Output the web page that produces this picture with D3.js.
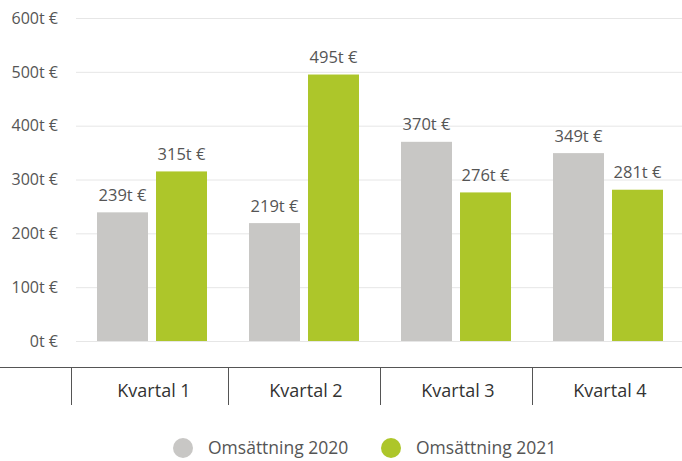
<!DOCTYPE html>
<html>
<head>
<meta charset="utf-8">
<script src="https://cdnjs.cloudflare.com/ajax/libs/d3/7.8.5/d3.min.js"></script>
<style>
  body { margin: 0; background: #fff; }
  text { font-family: 'Open Sans', sans-serif; }
</style>
</head>
<body>
<svg id="chart"></svg>
<script>
const categories = ['Kvartal 1', 'Kvartal 2', 'Kvartal 3', 'Kvartal 4'];
const seriesNames = ['Omsättning 2020', 'Omsättning 2021'];
const values2020 = [239, 219, 370, 349];
const values2021 = [315, 495, 276, 281];
const yTicks = [0, 100, 200, 300, 400, 500, 600];
const colors = ['#c8c7c5', '#adc62a'];

const width = 682, height = 461;
const svg = d3.select('#chart').attr('width', width).attr('height', height);

const x = d3.scaleBand().domain(categories).range([76, 684]);
const xSub = d3.scaleBand().domain(seriesNames).range([21, 131]).paddingInner(0.136);
const y = d3.scaleLinear().domain([0, 600]).range([341, 18]);

// grid
const gridY = svg.append('g').attr('id', 'gridY');
gridY.selectAll('line').data(yTicks).enter().append('line')
  .attr('x1', 76).attr('x2', width)
  .attr('y1', d => y(d) + 0.5).attr('y2', d => y(d) + 0.5)
  .attr('stroke', '#e6e6e6').attr('stroke-width', 1);

// y labels
svg.append('g').selectAll('text').data(yTicks).enter().append('text')
  .attr('x', 58).attr('y', d => y(d)).attr('dy', '0.36em')
  .attr('text-anchor', 'end')
  .style('font-size', '16px').style('fill', '#555')
  .text(d => d + 't €');

// bars
const rows = categories.map((c, i) => ({ cat: c, vals: [values2020[i], values2021[i]] }));
const groups = svg.append('g').selectAll('g').data(rows).enter().append('g')
  .attr('transform', d => 'translate(' + x(d.cat) + ',0)');

groups.selectAll('rect').data(d => d.vals.map((v, j) => ({ s: seriesNames[j], v: v, j: j })))
  .enter().append('rect')
  .attr('x', d => xSub(d.s)).attr('width', xSub.bandwidth())
  .attr('y', d => y(d.v)).attr('height', d => y(0) - y(d.v))
  .attr('fill', d => colors[d.j]);

groups.selectAll('text').data(d => d.vals.map((v, j) => ({ s: seriesNames[j], v: v })))
  .enter().append('text')
  .attr('x', d => xSub(d.s) + xSub.bandwidth() / 2)
  .attr('y', d => y(d.v) - 11.5)
  .attr('text-anchor', 'middle')
  .style('font-size', '16.5px').style('fill', '#555')
  .text(d => d.v + 't €');

// category axis
const axisG = svg.append('g');
axisG.append('line').attr('x1', 0).attr('x2', width).attr('y1', 367.5).attr('y2', 367.5)
  .attr('stroke', '#555').attr('stroke-width', 1.2);
const sepX = [71].concat(categories.slice(1).map(c => x(c)));
axisG.selectAll('line.sep').data(sepX).enter().append('line').attr('class', 'sep')
  .attr('x1', d => d + 0.5).attr('x2', d => d + 0.5).attr('y1', 367).attr('y2', 405)
  .attr('stroke', '#555').attr('stroke-width', 1);
axisG.selectAll('text').data(categories).enter().append('text')
  .attr('x', d => x(d) + x.bandwidth() / 2 + 2).attr('y', 391).attr('dy', '0.36em')
  .attr('text-anchor', 'middle')
  .style('font-size', '18px').style('fill', '#333')
  .text(d => d);

// legend
const legendX = [183, 391];
const legend = svg.append('g').selectAll('g').data(seriesNames).enter().append('g')
  .attr('transform', (d, i) => 'translate(' + legendX[i] + ',448)');
legend.append('circle').attr('r', 10).attr('fill', (d, i) => colors[i]);
legend.append('text').attr('x', 25).attr('dy', '0.36em')
  .style('font-size', '17.5px').style('fill', '#555')
  .text(d => d);
</script>
</body>
</html>
